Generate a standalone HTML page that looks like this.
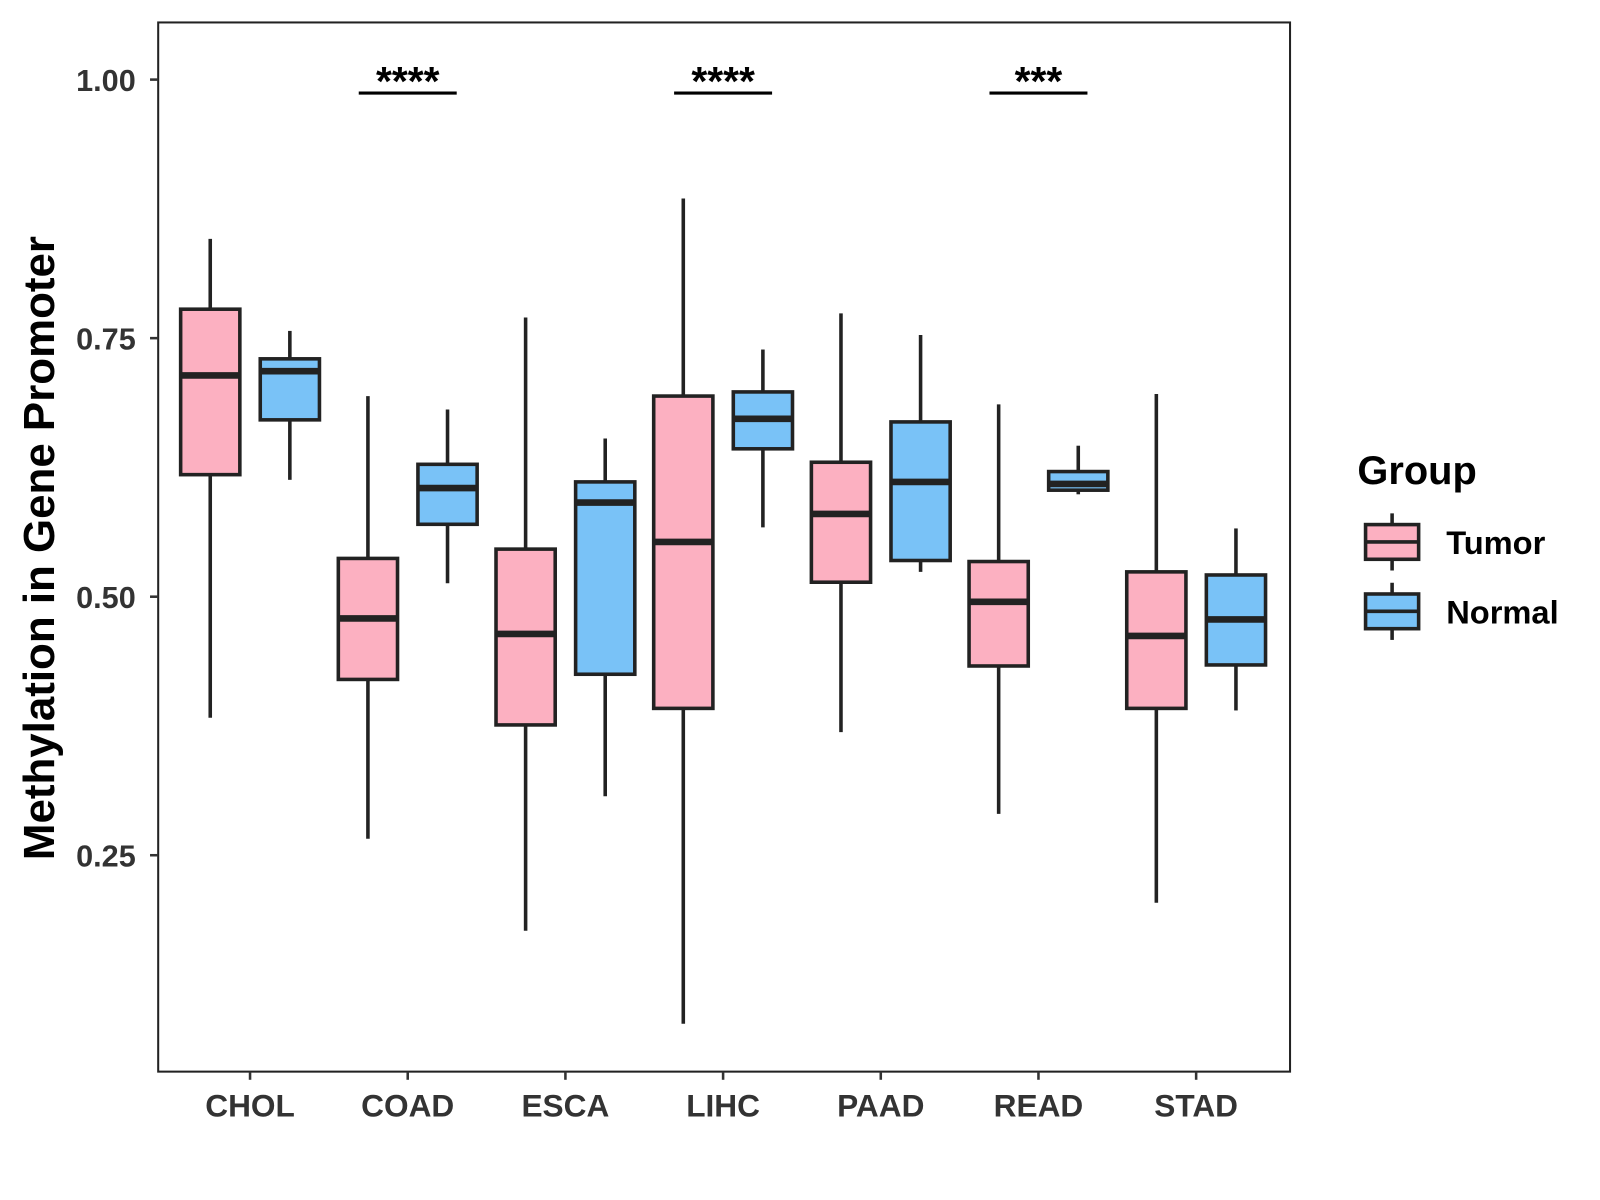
<!DOCTYPE html>
<html><head><meta charset="utf-8"><style>
html,body{margin:0;padding:0;background:#fff}
svg{display:block;font-family:"Liberation Sans",Arial,sans-serif}
</style></head><body>
<svg id="chart" width="1600" height="1200" viewBox="0 0 1600 1200">
<g transform="scale(1.0206)">
<rect x="155" y="22" width="1109" height="1028" fill="#fff" stroke="#222" stroke-width="2"/>
<g id="marks"></g>
<g id="axes"></g>
<text transform="translate(53,537) rotate(-90)" text-anchor="middle" font-size="43" font-weight="bold" fill="#000">Methylation in Gene Promoter</text>
<g>
<text x="1330" y="474" font-size="39" font-weight="bold" fill="#000">Group</text>
<g>
<line x1="1364" y1="503" x2="1364" y2="559" stroke="#222" stroke-width="3.5"/>
<rect x="1338" y="514" width="52" height="34" fill="#FCB0C1" stroke="#222" stroke-width="3.5"/>
<line x1="1338" y1="531" x2="1390" y2="531" stroke="#222" stroke-width="3.5"/>
<text x="1417" y="543" font-size="32" font-weight="bold" fill="#000">Tumor</text>
</g>
<g>
<line x1="1364" y1="571" x2="1364" y2="627" stroke="#222" stroke-width="3.5"/>
<rect x="1338" y="582" width="52" height="34" fill="#79C2F7" stroke="#222" stroke-width="3.5"/>
<line x1="1338" y1="599" x2="1390" y2="599" stroke="#222" stroke-width="3.5"/>
<text x="1417" y="611" font-size="32" font-weight="bold" fill="#000">Normal</text>
</g>
</g>
</g>
</svg>
<script>
const categories = ["CHOL","COAD","ESCA","LIHC","PAAD","READ","STAD"];
// [low, q1, median, q3, high]
const tumorStats = [
 [0.383,0.618,0.714,0.778,0.846],
 [0.266,0.420,0.479,0.537,0.694],
 [0.177,0.376,0.464,0.546,0.770],
 [0.087,0.392,0.553,0.694,0.885],
 [0.369,0.514,0.580,0.630,0.774],
 [0.290,0.433,0.495,0.534,0.686],
 [0.204,0.392,0.462,0.524,0.696]];
const normalStats = [
 [0.613,0.671,0.718,0.730,0.757],
 [0.513,0.570,0.605,0.628,0.681],
 [0.307,0.425,0.591,0.611,0.653],
 [0.567,0.643,0.672,0.698,0.739],
 [0.524,0.535,0.611,0.669,0.753],
 [0.599,0.603,0.609,0.621,0.646],
 [0.390,0.434,0.478,0.521,0.566]];
const yTicks = [0.25,0.50,0.75,1.00];
const yTickLabels = ["0.25","0.50","0.75","1.00"];
const sigCategories = ["COAD","LIHC","READ"];
const sigLabels = ["****","****","***"];
const sigLevel = 0.987;

const NS="http://www.w3.org/2000/svg";
const y = v => 78 + (1 - v) * 1013.3;
const x = i => 245 + i * 154.5;
function mk(tag, attrs, parent){const e=document.createElementNS(NS,tag);for(const k in attrs)e.setAttribute(k,attrs[k]);parent.appendChild(e);return e;}
const marks=document.getElementById('marks'), axes=document.getElementById('axes');

function drawBox(cx, s, fill, name){
  const g=mk('g',{},marks);
  
  
  const hw=29;
  mk('line',{x1:cx,x2:cx,y1:y(s[4]),y2:y(s[3]),stroke:'#222','stroke-width':3.5},g);
  mk('line',{x1:cx,x2:cx,y1:y(s[1]),y2:y(s[0]),stroke:'#222','stroke-width':3.5},g);
  mk('rect',{x:cx-hw,y:y(s[3]),width:2*hw,height:y(s[1])-y(s[3]),fill:fill,stroke:'#222','stroke-width':3.5},g);
  mk('line',{x1:cx-hw,x2:cx+hw,y1:y(s[2]),y2:y(s[2]),stroke:'#222','stroke-width':6.5},g);
}
categories.forEach((c,i)=>{
  drawBox(x(i)-39, tumorStats[i], '#FCB0C1', 'box-tumor-'+c.toLowerCase());
  drawBox(x(i)+39, normalStats[i], '#79C2F7', 'box-normal-'+c.toLowerCase());
  mk('line',{x1:x(i),x2:x(i),y1:1050,y2:1058,stroke:'#333','stroke-width':2.5},axes);
  const lb=mk('text',{x:x(i),y:1094,'text-anchor':'middle','font-size':31,'font-weight':'bold',fill:'#333'},axes);
  lb.textContent=c;
  
  
});
yTicks.forEach((v,i)=>{
  mk('line',{x1:147,x2:155,y1:y(v),y2:y(v),stroke:'#333','stroke-width':2.5},axes);
  const lb=mk('text',{x:133,y:y(v)+11,'text-anchor':'end','font-size':30,'font-weight':'bold',fill:'#333'},axes);
  lb.textContent=yTickLabels[i];
  
  
});
sigCategories.forEach((c,k)=>{
  const i=categories.indexOf(c);
  const g=mk('g',{},marks);
  
  
  mk('line',{x1:x(i)-48,x2:x(i)+48,y1:y(sigLevel),y2:y(sigLevel),stroke:'#000','stroke-width':3},g);
  const t=mk('text',{x:x(i),y:y(sigLevel)+2,'text-anchor':'middle','font-size':40,'font-weight':'bold',fill:'#000'},g);
  t.textContent=sigLabels[k];
});
</script>
</body></html>
